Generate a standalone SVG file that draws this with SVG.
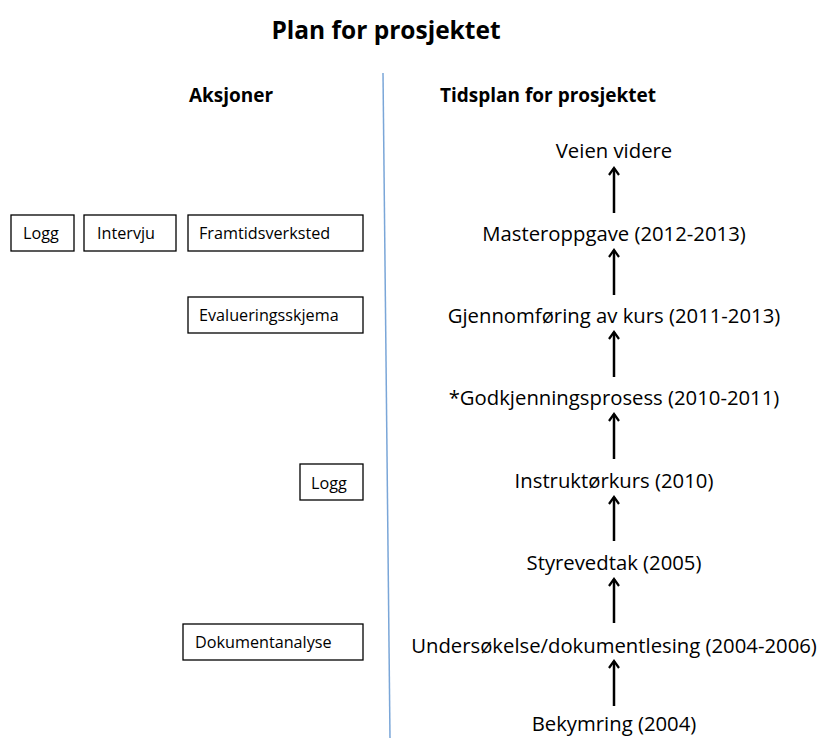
<svg xmlns="http://www.w3.org/2000/svg" width="820" height="738" viewBox="0 0 820 738">
<style>
text{font-family:"Open Sans","Liberation Sans",sans-serif;fill:#000}
.t{font-weight:bold;font-size:24.5px}
.h{font-weight:bold;font-size:19px}
.b{font-size:16.2px}
.s{font-size:20.3px;text-anchor:middle}
rect{fill:#fff;stroke:#000;stroke-width:1.3}
.c line{stroke:#000;stroke-width:2.5}
</style>
<defs>
<marker id="ah" viewBox="0 0 12 12" refX="10" refY="6" markerWidth="12" markerHeight="12" markerUnits="userSpaceOnUse" orient="auto">
<path d="M3,1 L10,6 L3,11" fill="none" stroke="#000" stroke-width="2.2"/>
</marker>
</defs>
<rect x="0" y="0" width="820" height="738" style="stroke:none"/>
<text class="t" x="386" y="39" text-anchor="middle">Plan for prosjektet</text>
<text class="h" x="231" y="102" text-anchor="middle">Aksjoner</text>
<text class="h" x="548" y="102" text-anchor="middle">Tidsplan for prosjektet</text>
<line x1="383" y1="73" x2="390" y2="738" stroke="#7aa6d8" stroke-width="1.5"/>
<g id="logg1"><rect x="11" y="215" width="63" height="36"/><text class="b" x="23" y="239">Logg</text></g>
<g id="intervju"><rect x="84" y="215" width="92" height="36"/><text class="b" x="97" y="239">Intervju</text></g>
<g id="framtidsverksted"><rect x="188" y="215" width="175" height="36"/><text class="b" x="199" y="239">Framtidsverksted</text></g>
<g id="evalueringsskjema"><rect x="188" y="297" width="175" height="36"/><text class="b" x="199" y="321">Evalueringsskjema</text></g>
<g id="logg2"><rect x="300" y="464" width="63" height="36"/><text class="b" x="311" y="489">Logg</text></g>
<g id="dokumentanalyse"><rect x="183" y="624" width="180" height="36"/><text class="b" x="195" y="648">Dokumentanalyse</text></g>
<g id="veien"><text class="s" x="614" y="158">Veien videre</text></g>
<g id="master"><text class="s" x="614" y="241">Masteroppgave (2012-2013)</text></g>
<g id="gjennom"><text class="s" x="614" y="323">Gjennomføring av kurs (2011-2013)</text></g>
<g id="godkj"><text class="s" x="614" y="405">*Godkjenningsprosess (2010-2011)</text></g>
<g id="instr"><text class="s" x="614" y="488">Instruktørkurs (2010)</text></g>
<g id="styre"><text class="s" x="614" y="570">Styrevedtak (2005)</text></g>
<g id="unders"><text class="s" x="614" y="653">Undersøkelse/dokumentlesing (2004-2006)</text></g>
<g id="bekym"><text class="s" x="614" y="731">Bekymring (2004)</text></g>
<g class="c" id="connectors">
<line x1="614" y1="213" x2="614" y2="168" marker-end="url(#ah)"/>
<line x1="614" y1="295" x2="614" y2="250" marker-end="url(#ah)"/>
<line x1="614" y1="377" x2="614" y2="332" marker-end="url(#ah)"/>
<line x1="614" y1="459" x2="614" y2="414" marker-end="url(#ah)"/>
<line x1="614" y1="541" x2="614" y2="497" marker-end="url(#ah)"/>
<line x1="614" y1="623" x2="614" y2="579" marker-end="url(#ah)"/>
<line x1="614" y1="706" x2="614" y2="661" marker-end="url(#ah)"/>
</g>
</svg>
